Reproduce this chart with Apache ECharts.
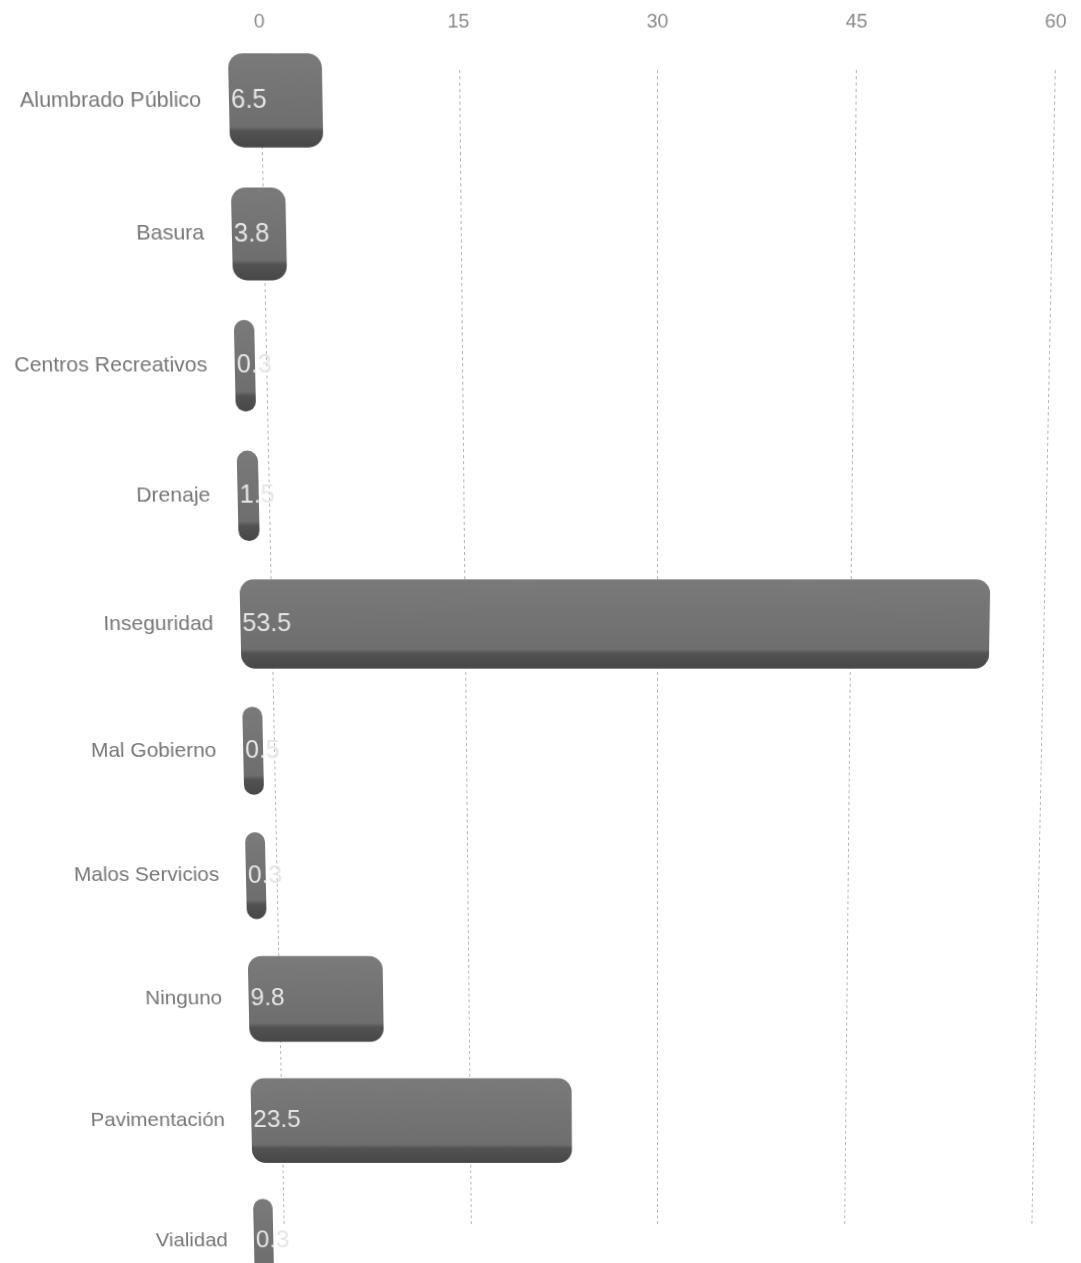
<!DOCTYPE html>
<html>
<head>
<meta charset="utf-8">
<script src="https://cdn.jsdelivr.net/npm/echarts@6/dist/echarts.min.js"></script>
<style>
  html, body { margin: 0; padding: 0; background: #fff; overflow: hidden; height: 1263px; }
  #main {
    width: 1081px;
    height: 1340px;
    /* the reference is seen slightly tilted: wider at the top than at the bottom */
    transform-origin: 658px 650px;
    transform: perspective(2000px) rotateX(-6deg);
  }
</style>
</head>
<body>
<div id="main"></div>
<script>
var categories = ['Alumbrado Público', 'Basura', 'Centros Recreativos', 'Drenaje', 'Inseguridad',
    'Mal Gobierno', 'Malos Servicios', 'Ninguno', 'Pavimentación', 'Vialidad'];
var values = [6.5, 3.8, 0.3, 1.5, 53.5, 0.5, 0.3, 9.8, 23.5, 0.3];
var tickMin = 0;
var tickMax = 60;
var tickStep = 15;

var chartDom = document.getElementById('main');
var myChart = echarts.init(chartDom);
var option;

var font = 'Liberation Sans, Arial, sans-serif';

option = {
    animation: false,
    backgroundColor: '#fff',
    grid: [
        // bars (the last row runs past the bottom edge of the page)
        { left: 241, right: 1, top: 49, height: 1278, outerBoundsMode: 'none' },
        // grid lines and top scale
        { left: 272, right: 38, top: 84, height: 1162, outerBoundsMode: 'none' }
    ],
    xAxis: [{
        gridIndex: 0,
        type: 'value',
        min: 0,
        max: 60,
        show: false
    }, {
        gridIndex: 1,
        type: 'value',
        position: 'top',
        min: tickMin,
        max: tickMax,
        interval: tickStep,
        axisLine: { show: false },
        axisTick: { show: false },
        axisLabel: {
            margin: 36,
            color: '#8a8a8a',
            fontSize: 19,
            fontFamily: font
        },
        splitLine: {
            lineStyle: { color: '#b5b5b5', type: [3, 3], width: 1 }
        }
    }],
    yAxis: [{
        gridIndex: 0,
        type: 'category',
        inverse: true,
        data: categories,
        axisLine: { show: false },
        axisTick: { show: false },
        axisLabel: {
            margin: 27,
            color: '#767676',
            fontSize: 21,
            fontFamily: font
        }
    }, {
        gridIndex: 1,
        type: 'category',
        inverse: true,
        data: categories,
        show: false
    }],
    series: [{
        type: 'bar',
        xAxisIndex: 0,
        yAxisIndex: 0,
        data: values,
        barWidth: '70%',
        barMinHeight: 20,
        clip: false,
        itemStyle: {
            borderRadius: 14,
            color: new echarts.graphic.LinearGradient(0, 0, 0, 1, [
                { offset: 0, color: '#7a7a7a' },
                { offset: 0.78, color: '#6e6e6e' },
                { offset: 0.83, color: '#525252' },
                { offset: 1, color: '#474747' }
            ])
        },
        label: {
            show: true,
            position: 'insideLeft',
            distance: 2,
            color: '#e6e6e6',
            fontSize: 25,
            fontFamily: font
        },
        z: 3
    }]
};

option && myChart.setOption(option);
</script>
</body>
</html>
